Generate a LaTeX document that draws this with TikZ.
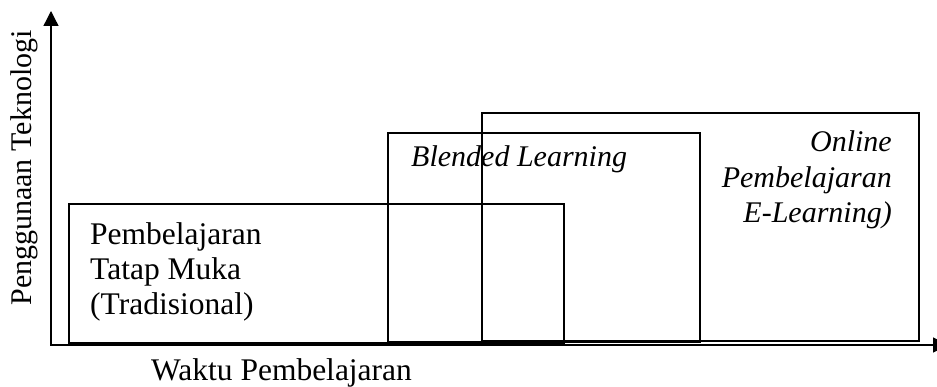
\documentclass[tikz,border=0pt]{standalone}
\usepackage{fontspec}
\setmainfont{Liberation Serif}
\usetikzlibrary{arrows.meta}
\begin{document}
\begin{tikzpicture}[x=1pt,y=-1pt,
  box/.style={draw=black,line width=1.3pt},
  axis/.style={draw=black,line width=1.3pt,-{Triangle[length=15pt,width=15pt]}},
  lbl/.style={font=\fontsize{31.5}{35}\selectfont,inner sep=0pt},
  ylbl/.style={font=\fontsize{30}{35}\selectfont,inner sep=0pt},
  ilbl/.style={font=\fontsize{30}{35}\selectfont\itshape,inner sep=0pt}]
\useasboundingbox (0,0) rectangle (937,387);
% rectangles
\draw[box] (69,204) rectangle (564,343);
\draw[box] (388,133) rectangle (700,342);
\draw[box] (482,113) rectangle (919,341);
% axes
\coordinate (o) at (51,345.65);
\coordinate (xs) at (50.35,345);
\coordinate (xe) at (948,345);
\coordinate (ye) at (51,11);
\draw[axis] (xs) -- (xe);
\draw[axis] (o) -- (ye);
% texts
\node[lbl,anchor=base west] (t1) at (90,245) {Pembelajaran};
\node[lbl,anchor=base west] (t2) at (90,280) {Tatap Muka};
\node[lbl,anchor=base west] (t3) at (90,315) {(Tradisional)};
\node[ilbl,anchor=base west] (bl) at (411,167) {Blended Learning};
\node[ilbl,anchor=base east] (o1) at (892,152) {Online};
\node[ilbl,anchor=base east] (o2) at (892,188) {Pembelajaran};
\node[ilbl,anchor=base east] (o3) at (892,223) {E-Learning)};
\node[lbl,anchor=base west] (xl) at (151,380) {Waktu Pembelajaran};
\node[ylbl,anchor=base,rotate=90] (yl) at (31,168) {Penggunaan Teknologi};
\end{tikzpicture}
\end{document}
